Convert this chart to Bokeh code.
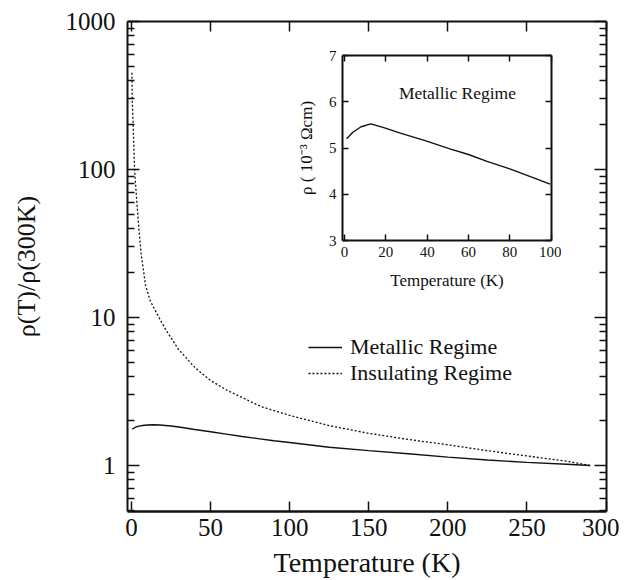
from bokeh.plotting import figure
from bokeh.models import (Range1d, LinearAxis, LogAxis, FixedTicker, NumeralTickFormatter,
                          Legend, LegendItem, Label)
from bokeh.embed import file_html
from bokeh.resources import INLINE

# ---------------- data ----------------
T_met = [0.5, 2, 4, 7, 10, 14, 18, 25, 30, 40, 50, 60, 70, 80, 90, 100,
         125, 150, 175, 200, 225, 250, 275, 290]
ratio_met = [1.76, 1.80, 1.84, 1.865, 1.88, 1.885, 1.88, 1.85, 1.82, 1.75, 1.69, 1.63,
             1.57, 1.52, 1.47, 1.43, 1.33, 1.26, 1.20, 1.14, 1.09, 1.05, 1.02, 1.00]

T_ins = [0.3, 0.5, 1.1, 2, 3.2, 4.6, 6.1, 8.9, 11.8, 14, 17, 21.6, 29.7, 40, 50, 61,
         82, 100, 125, 150, 175, 200, 225, 250, 275, 290]
ratio_ins = [450, 292, 193, 98, 65, 41, 27, 16.5, 13.0, 11.7, 10.2, 8.3, 6.1, 4.6, 3.75, 3.2,
             2.5, 2.18, 1.86, 1.65, 1.50, 1.38, 1.26, 1.16, 1.07, 1.00]

T_inset = [1, 4, 8, 12.7, 19, 27, 39, 51, 60, 69, 80, 90, 99.5]
rho_inset = [5.20, 5.34, 5.46, 5.52, 5.44, 5.32, 5.16, 4.98, 4.86, 4.71, 4.55, 4.38, 4.22]

x_ticks = [0, 50, 100, 150, 200, 250, 300]
y_ticks = [1, 10, 100, 1000]
y_minor = [m * 10 ** d for d in range(-1, 3) for m in range(2, 10)]
inset_x_ticks = [0, 20, 40, 60, 80, 100]
inset_y_ticks = [3, 4, 5, 6, 7]

FONT = "Liberation Serif"
INK = "#111111"


def style_axis(ax, label_size, tick_in, minor_in=0, show_labels=True, standoff=8, width=2):
    ax.axis_line_color = INK
    ax.axis_line_width = width
    ax.major_tick_line_color = INK
    ax.major_tick_line_width = 1.5
    ax.major_tick_in = tick_in
    ax.major_tick_out = 0
    ax.minor_tick_line_color = INK
    ax.minor_tick_line_width = 1.5
    ax.minor_tick_in = minor_in
    ax.minor_tick_out = 0
    ax.major_label_text_font = FONT
    ax.major_label_text_color = INK
    ax.major_label_standoff = standoff
    if show_labels:
        ax.major_label_text_font_size = label_size
    else:
        ax.major_label_text_font_size = "1px"
        ax.major_label_text_color = None
        ax.major_label_standoff = 0
    ax.axis_label_text_font = FONT
    ax.axis_label_text_font_style = "normal"
    ax.axis_label_text_color = INK


# ---------------- main plot ----------------
p = figure(width=611, height=572, x_range=Range1d(-2.5, 300.3), y_range=Range1d(0.489, 1000),
           y_axis_type="log", output_backend="svg", toolbar_location=None,
           min_border_left=119, min_border_right=13, min_border_top=13, min_border_bottom=69,
           styles={"position": "absolute", "left": "8px", "top": "8px"})
p.xgrid.visible = False
p.ygrid.visible = False
p.outline_line_color = None
p.background_fill_color = "white"
p.border_fill_color = "white"

xa = p.xaxis[0]
xa.ticker = FixedTicker(ticks=x_ticks)
style_axis(xa, "25px", 10, standoff=7, width=2.5)
xa.axis_label = "Temperature (K)"
xa.axis_label_text_font_size = "28px"
xa.axis_label_standoff = 8

ya = p.yaxis[0]
ya.ticker = FixedTicker(ticks=y_ticks, minor_ticks=y_minor)
ya.formatter = NumeralTickFormatter(format="0")
style_axis(ya, "25px", 12, minor_in=7, standoff=12)
ya.axis_label = "ρ(T)/ρ(300K)"
ya.axis_label_text_font_size = "26px"
ya.axis_label_standoff = 22

top = LinearAxis(ticker=FixedTicker(ticks=x_ticks))
style_axis(top, "1px", 10, show_labels=False)
p.add_layout(top, "above")
right = LogAxis(ticker=FixedTicker(ticks=y_ticks, minor_ticks=y_minor))
style_axis(right, "1px", 12, minor_in=7, show_labels=False)
p.add_layout(right, "right")

r_met = p.line(T_met, ratio_met, line_color=INK, line_width=1.4)
r_ins = p.line(T_ins, ratio_ins, line_color=INK, line_width=1.3, line_dash="2 2")

legend = Legend(items=[LegendItem(label="Metallic Regime", renderers=[r_met]),
                       LegendItem(label="Insulating Regime", renderers=[r_ins])],
                location=(181, 125), padding=0, margin=0, spacing=0,
                glyph_width=34, glyph_height=20, label_height=20, label_standoff=8,
                label_text_font=FONT, label_text_font_size="22px", label_text_color=INK,
                border_line_alpha=0, background_fill_alpha=0)
p.add_layout(legend)

# ---------------- inset ----------------
ins = figure(width=56 + 209 + 10, height=10 + 185 + 60,
             x_range=Range1d(-1, 100.2), y_range=Range1d(3, 7),
             output_backend="svg", toolbar_location=None,
             min_border_left=56, min_border_right=10, min_border_top=10, min_border_bottom=60,
             styles={"position": "absolute", "left": "286px", "top": "45px"})
ins.xgrid.visible = False
ins.ygrid.visible = False
ins.outline_line_color = None
ins.background_fill_alpha = 0
ins.border_fill_alpha = 0

ixa = ins.xaxis[0]
ixa.ticker = FixedTicker(ticks=inset_x_ticks)
style_axis(ixa, "15px", 6, standoff=6)
ixa.axis_label = "Temperature (K)"
ixa.axis_label_text_font_size = "17px"
ixa.axis_label_standoff = 11

iya = ins.yaxis[0]
iya.ticker = FixedTicker(ticks=inset_y_ticks)
style_axis(iya, "15px", 6, standoff=6)
iya.axis_label = "ρ ( 10⁻³ Ωcm)"
iya.axis_label_text_font_size = "17px"
iya.axis_label_standoff = 10

itop = LinearAxis(ticker=FixedTicker(ticks=inset_x_ticks))
style_axis(itop, "1px", 6, show_labels=False)
ins.add_layout(itop, "above")
iright = LinearAxis(ticker=FixedTicker(ticks=inset_y_ticks))
style_axis(iright, "1px", 6, show_labels=False)
ins.add_layout(iright, "right")

ins.line(T_inset, rho_inset, line_color=INK, line_width=1.4)
ins.add_layout(Label(x=26.3, y=6.18, text="Metallic Regime", text_font=FONT,
                     text_font_size="17.5px", text_color=INK, text_baseline="alphabetic"))

open("out.html", "w").write(file_html([p, ins], INLINE))
